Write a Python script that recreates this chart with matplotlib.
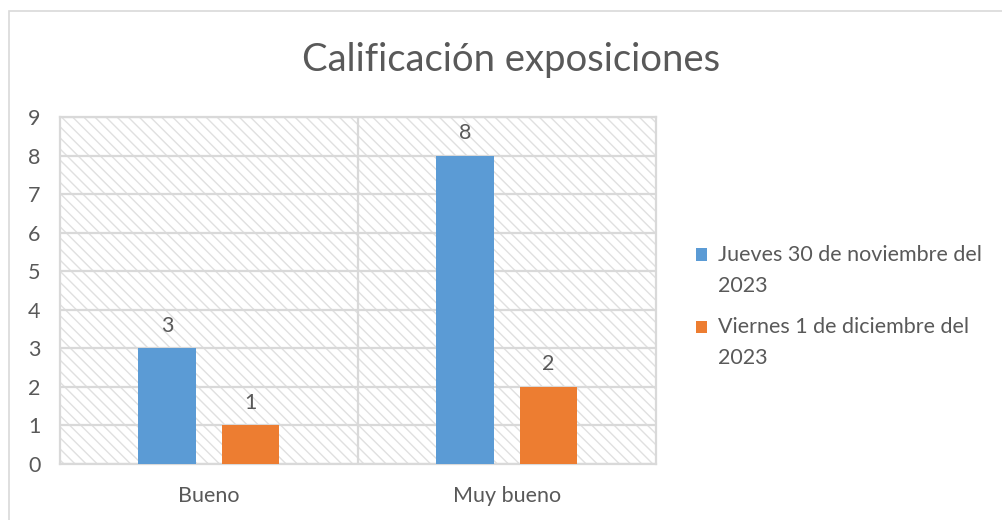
import matplotlib.pyplot as plt
import matplotlib.patches as mpatches
from matplotlib.container import BarContainer
from matplotlib.legend_handler import HandlerPatch, update_from_first_child
import numpy as np

categorias = ['Bueno', 'Muy bueno']
series = ['Jueves 30 de noviembre del\n2023', 'Viernes 1 de diciembre del\n2023']
jueves = [3, 8]
viernes = [1, 2]
colores = ['#5B9BD5', '#ED7D31']

plt.rcParams['font.family'] = ['Lato', 'DejaVu Sans']
plt.rcParams['hatch.linewidth'] = 1.0
texto = '#595959'
gris = '#d9d9d9'
fs = 15.5

fig = plt.figure(figsize=(10.03, 5.2), dpi=100)
ax = fig.add_axes([0.0598, 0.1077, 0.594, 0.6673])

# marco del grafico (solo arriba e izquierda visibles)
fig.patches.append(mpatches.Rectangle((9 / 1003, -0.1), 1.2, 1 - 11 / 520 + 0.1,
                                      transform=fig.transFigure, fill=False,
                                      edgecolor=gris, linewidth=1.2))

# fondo rayado
ax.add_patch(mpatches.Rectangle((0, 0), 1, 1, transform=ax.transAxes,
                                facecolor='white', edgecolor='#e0e0e0',
                                linewidth=0, hatch='\\\\\\', zorder=0))

x = np.arange(len(categorias))
w = 0.193
off = 0.14
b1 = ax.bar(x - off, jueves, w, color=colores[0], label=series[0], zorder=3)
b2 = ax.bar(x + off, viernes, w, color=colores[1], label=series[1], zorder=3)
for barras in (b1, b2):
    ax.bar_label(barras, padding=9, fontsize=fs, color=texto)

ax.set_xlim(-0.5, 1.5)
ax.set_ylim(0, 9)
ax.set_yticks(range(10))
ax.set_xticks(x)
ax.set_xticklabels(categorias)
ax.tick_params(length=0, labelsize=fs, colors=texto)
ax.tick_params(axis='x', pad=16)
ax.tick_params(axis='y', pad=14)
ax.grid(axis='y', color=gris, linewidth=1.6, zorder=1)
ax.axvline(0.5, color=gris, linewidth=1.6, zorder=1)
for s in ax.spines.values():
    s.set_color(gris)
    s.set_linewidth(1.6)

fig.text(0.51, 0.885, 'Calificación exposiciones', ha='center', va='center',
         fontsize=27.5, color=texto)


def cuadro_arriba(legend, orig_handle, xdescent, ydescent, width, height, fontsize):
    ancho = 0.5 * fontsize
    alto = 0.58 * fontsize
    return mpatches.Rectangle((-xdescent, -ydescent + height - alto + 0.12 * fontsize),
                              ancho, alto)


leg = ax.legend(loc='center left', bbox_to_anchor=(1.035, 0.454), frameon=False,
                fontsize=fs, labelcolor=texto, handlelength=0.5, handleheight=2.6,
                handletextpad=0.5, labelspacing=1.0,
                handler_map={BarContainer: HandlerPatch(patch_func=cuadro_arriba,
                                                        update_func=update_from_first_child)})
for t in leg.get_texts():
    t.set_linespacing(1.68)

fig.savefig('out.png', dpi=100)
